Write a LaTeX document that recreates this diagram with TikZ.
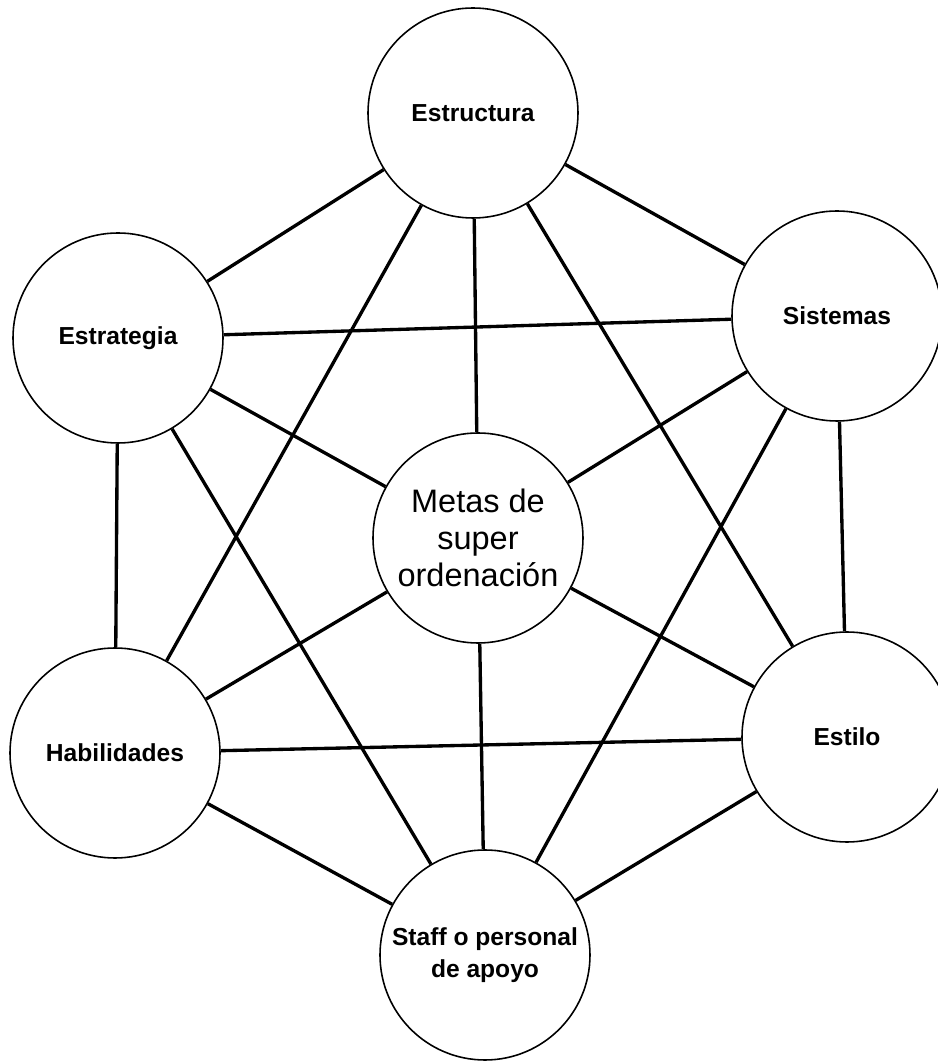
\documentclass[tikz,border=0pt]{standalone}
\usepackage{fontspec}
\setmainfont{Liberation Sans}
\tikzset{
    factor/.style = {draw, circle, line width=0.9pt,
        minimum size=4.2cm, inner sep=0pt, align=center,
        font=\fontsize{14}{18}\selectfont\bfseries},
    core/.style = {factor, font=\fontsize{18.5}{21}\selectfont},
    link/.style = {draw, line width=1.9pt}
}

\begin{document}
\begin{tikzpicture}
            \useasboundingbox (0,0) rectangle (18.76,21.26);
            \node [factor] (estructura) at (9.46,19.00) {Estructura};
            \node [factor] (estrategia) at (2.36,14.50) {Estrategia};
            \node [factor] (sistemas) at (16.74,14.94) {Sistemas};
            \node [core] (metas) at (9.56,10.50) {Metas de\\super\\ordenación};
            \node [factor] (habilidades) at (2.30,6.20) {Habilidades};
            \node [factor] (estilo) at (16.94,6.52) {Estilo};
            \node [factor] (staff) at (9.70,2.16) {Staff o personal\\de apoyo};
            \draw [link] (estructura) -- (estrategia);
            \draw [link] (estructura) -- (sistemas);
            \draw [link] (estructura) -- (metas);
            \draw [link] (estructura) -- (habilidades);
            \draw [link] (estructura) -- (estilo);
            \draw [link] (estrategia) -- (sistemas);
            \draw [link] (estrategia) -- (metas);
            \draw [link] (estrategia) -- (habilidades);
            \draw [link] (estrategia) -- (staff);
            \draw [link] (sistemas) -- (metas);
            \draw [link] (sistemas) -- (estilo);
            \draw [link] (sistemas) -- (staff);
            \draw [link] (metas) -- (habilidades);
            \draw [link] (metas) -- (estilo);
            \draw [link] (metas) -- (staff);
            \draw [link] (habilidades) -- (estilo);
            \draw [link] (habilidades) -- (staff);
            \draw [link] (estilo) -- (staff);
        \end{tikzpicture}
\end{document}
